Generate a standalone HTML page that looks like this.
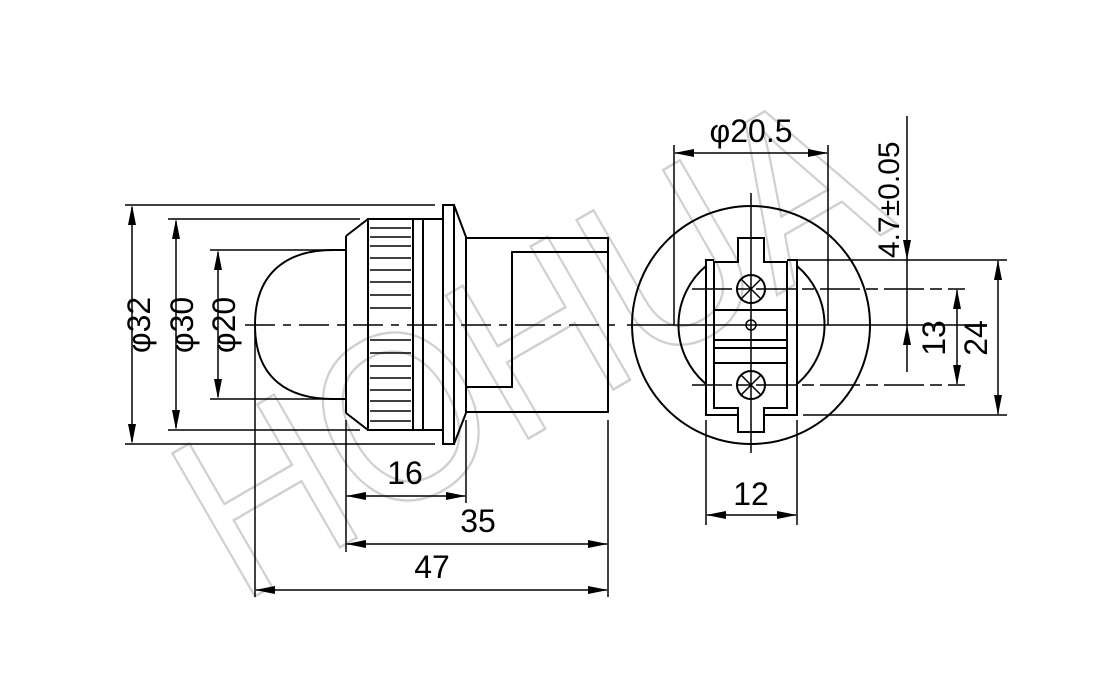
<!DOCTYPE html>
<html><head><meta charset="utf-8"><style>
html,body{margin:0;padding:0;background:#fff;}
svg{display:block;}
text{font-family:"Liberation Sans",sans-serif;}
</style></head><body>
<svg width="1101" height="700" viewBox="0 0 1101 700" xmlns="http://www.w3.org/2000/svg">
<!-- watermark -->
<g fill="none" stroke="#d0d0d0" stroke-width="2.5" font-size="240" font-family="Liberation Sans,sans-serif">
<text x="0" y="0" transform="translate(240,605) rotate(-30)" textLength="760" lengthAdjust="spacingAndGlyphs">HOHUA</text>
</g>
<g fill="none" stroke="#000" stroke-width="2">
<path d="M255,325 C255,270 290,250 333,250 L346,250 M255,325 C255,380 290,399 333,399 L346,399" />
<path d="M346,236 L346,413 M346,236 L368,219 M346,413 L368,430"/>
<rect x="368" y="219" width="45" height="211"/>
<rect x="413" y="219" width="10" height="211"/>
<path d="M423,219 L443,219 M423,430 L443,430"/>
<rect x="443" y="205" width="11" height="239"/>
<path d="M454,205 L466,237 L466,413 L454,444"/>
<rect x="466" y="238" width="142" height="174"/>
<path d="M466,387 L512,387 L512,252 L608,252"/>
</g>
<g stroke="#000" stroke-width="1.5">
<path d="M370,228H411M370,237H411M370,246H411M370,258H411M370,270H411M370,282H411M370,295H411M370,308H411M370,340H411M370,353H411M370,366H411M370,378H411M370,390H411M370,401H411M370,411H411M370,421H411"/>
</g>
<g stroke="#000" stroke-width="1.5" fill="none">
<path d="M245,325H620" stroke-dasharray="30,8,8,8"/>
<path d="M125,205H435 M125,444H435 M168,219H360 M168,430H360 M210,250H343 M210,399H343"/>
<path d="M132,207V442 M176,221V428 M218,252V397"/>
<path d="M255,330V597 M346,420V552 M466,420V503 M608,420V597"/>
<path d="M347,496H465 M347,544H607 M256,590H607"/>
</g>
<g font-size="32" fill="#000">
<text x="405" y="484" text-anchor="middle">16</text>
<text x="478" y="532" text-anchor="middle">35</text>
<text x="432" y="578" text-anchor="middle">47</text>
<text transform="translate(150,325) rotate(-90)" text-anchor="middle">φ32</text>
<text transform="translate(193,325) rotate(-90)" text-anchor="middle">φ30</text>
<text transform="translate(235,325) rotate(-90)" text-anchor="middle">φ20</text>
</g>
<!-- right view -->
<g fill="none" stroke="#000" stroke-width="2">
<circle cx="751" cy="325" r="119"/>
<path d="M706,266 A77,77 0 0 0 706,384 M797,266 A77,77 0 0 1 797,384"/>
<path d="M714,260H706V415H738 M764,415H797V260H787"/>
<path d="M714,262H738V238H764V262H787V408H764V432H738V408H714Z"/>
<path d="M714,310H787 M714,340H787 M714,348H787 M714,363H787"/>
<circle cx="751" cy="289" r="14"/>
<circle cx="751" cy="385" r="14"/>
</g>
<g stroke="#000" stroke-width="1.5" fill="none">
<path d="M741,279L761,299M761,279L741,299M741,375L761,395M761,375L741,395"/>
<circle cx="751" cy="325" r="5"/>
<path d="M627,325H987 M751,193V453" />
<path d="M692,289H965 M692,385H965" stroke-dasharray="40,6,12,6"/>
<path d="M674,145V325 M828,145V325"/>
<path d="M675,153H827"/>
<path d="M797,260H1007 M803,415H1007"/>
<path d="M998,261V414"/>
<path d="M957,290V384"/>
<path d="M907,116V372"/>
<path d="M706,420V525 M797,420V525"/>
<path d="M707,515H796"/>
</g>
<!-- arrowheads -->
<path fill="#000" d="
M132,205l-4,20h8z M132,444l-4,-20h8z
M176,219l-4,20h8z M176,430l-4,-20h8z
M218,250l-4,20h8z M218,399l-4,-20h8z
M346,496l20,-4v8z M466,496l-20,-4v8z
M346,544l20,-4v8z M608,544l-20,-4v8z
M255,590l20,-4v8z M608,590l-20,-4v8z
M674,153l20,-4v8z M828,153l-20,-4v8z
M998,260l-4,20h8z M998,415l-4,-20h8z
M957,289l-4,20h8z M957,385l-4,-20h8z
M907,260l-4,-20h8z M907,325l-4,20h8z
M706,515l20,-4v8z M797,515l-20,-4v8z"/>
<g font-size="32" fill="#000">
<text x="751" y="142" text-anchor="middle">φ20.5</text>
<text x="751" y="505" text-anchor="middle">12</text>
<text transform="translate(945,338) rotate(-90)" text-anchor="middle">13</text>
<text transform="translate(987,338) rotate(-90)" text-anchor="middle">24</text>
<text transform="translate(899,258) rotate(-90)" font-size="30">4.7±0.05</text>
</g>
</svg>
</body></html>
